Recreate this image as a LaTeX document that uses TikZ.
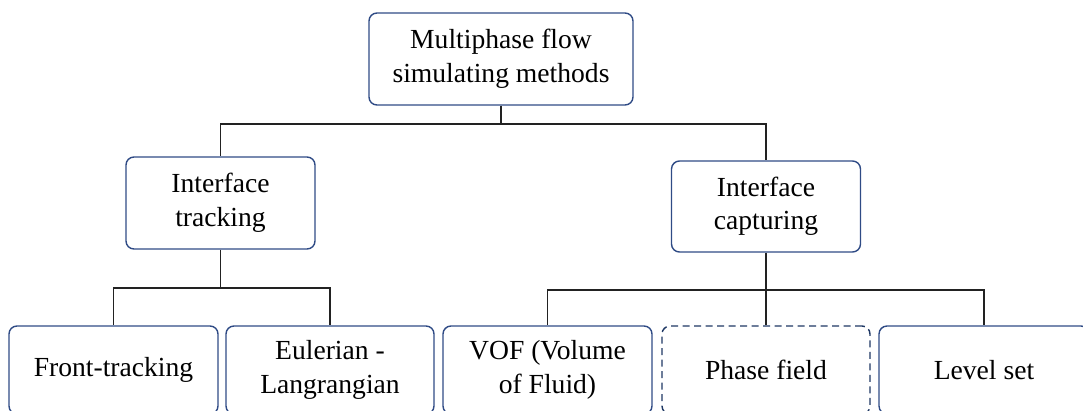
\documentclass[tikz,border=0pt]{standalone}
\usepackage{fontspec}
\setmainfont{Liberation Serif}
\definecolor{boxblue}{HTML}{2F4B85}
\definecolor{dashblue}{HTML}{1F3864}
\definecolor{linegray}{HTML}{222222}
\begin{document}
\begin{tikzpicture}[x=1pt,y=-1pt,
  box/.style={draw=boxblue, line width=1.4pt, rounded corners=8pt, align=center,
    inner sep=0pt, font=\fontsize{27.6}{33.5}\selectfont, text=black},
  dashbox/.style={box, draw=dashblue, dash pattern=on 7pt off 4.5pt},
  conn/.style={draw=linegray, line width=1.5pt}]
\useasboundingbox (0,0) rectangle (1083,410);
\clip (0,0) rectangle (1083,410);
\node[box, minimum width=264pt, minimum height=92pt] (top) at (501,59) {Multiphase flow\\simulating methods};
\node[box, minimum width=189pt, minimum height=92pt] (itrack) at (220.5,203) {Interface\\tracking};
\node[box, minimum width=189pt, minimum height=91pt] (icapt) at (766,206.5) {Interface\\capturing};
\node[box, minimum width=209pt, minimum height=88pt] (front) at (113.5,370) {Front-tracking};
\node[box, minimum width=208pt, minimum height=88pt] (euler) at (330,370) {Eulerian -\\Langrangian};
\node[box, minimum width=209pt, minimum height=88pt] (vof) at (547.5,370) {VOF (Volume\\of Fluid)};
\node[dashbox, minimum width=208pt, minimum height=88pt] (phase) at (766,370) {Phase field};
\node[box, minimum width=210pt, minimum height=88pt] (level) at (984,370) {Level set};
\coordinate (bus1) at (501,124);
\coordinate (bus2) at (220.5,288);
\coordinate (bus3) at (766,290);
\draw[conn] (top.south) -- (bus1);
\draw[conn] (bus1) -| (itrack.north);
\draw[conn] (bus1) -| (icapt.north);
\draw[conn] (itrack.south) -- (bus2);
\draw[conn] (bus2) -| (front.north);
\draw[conn] (bus2) -| (euler.north);
\draw[conn] (icapt.south) -- (bus3);
\draw[conn] (bus3) -| (vof.north);
\draw[conn] (bus3) -- (phase.north);
\draw[conn] (bus3) -| (level.north);
\end{tikzpicture}
\end{document}
